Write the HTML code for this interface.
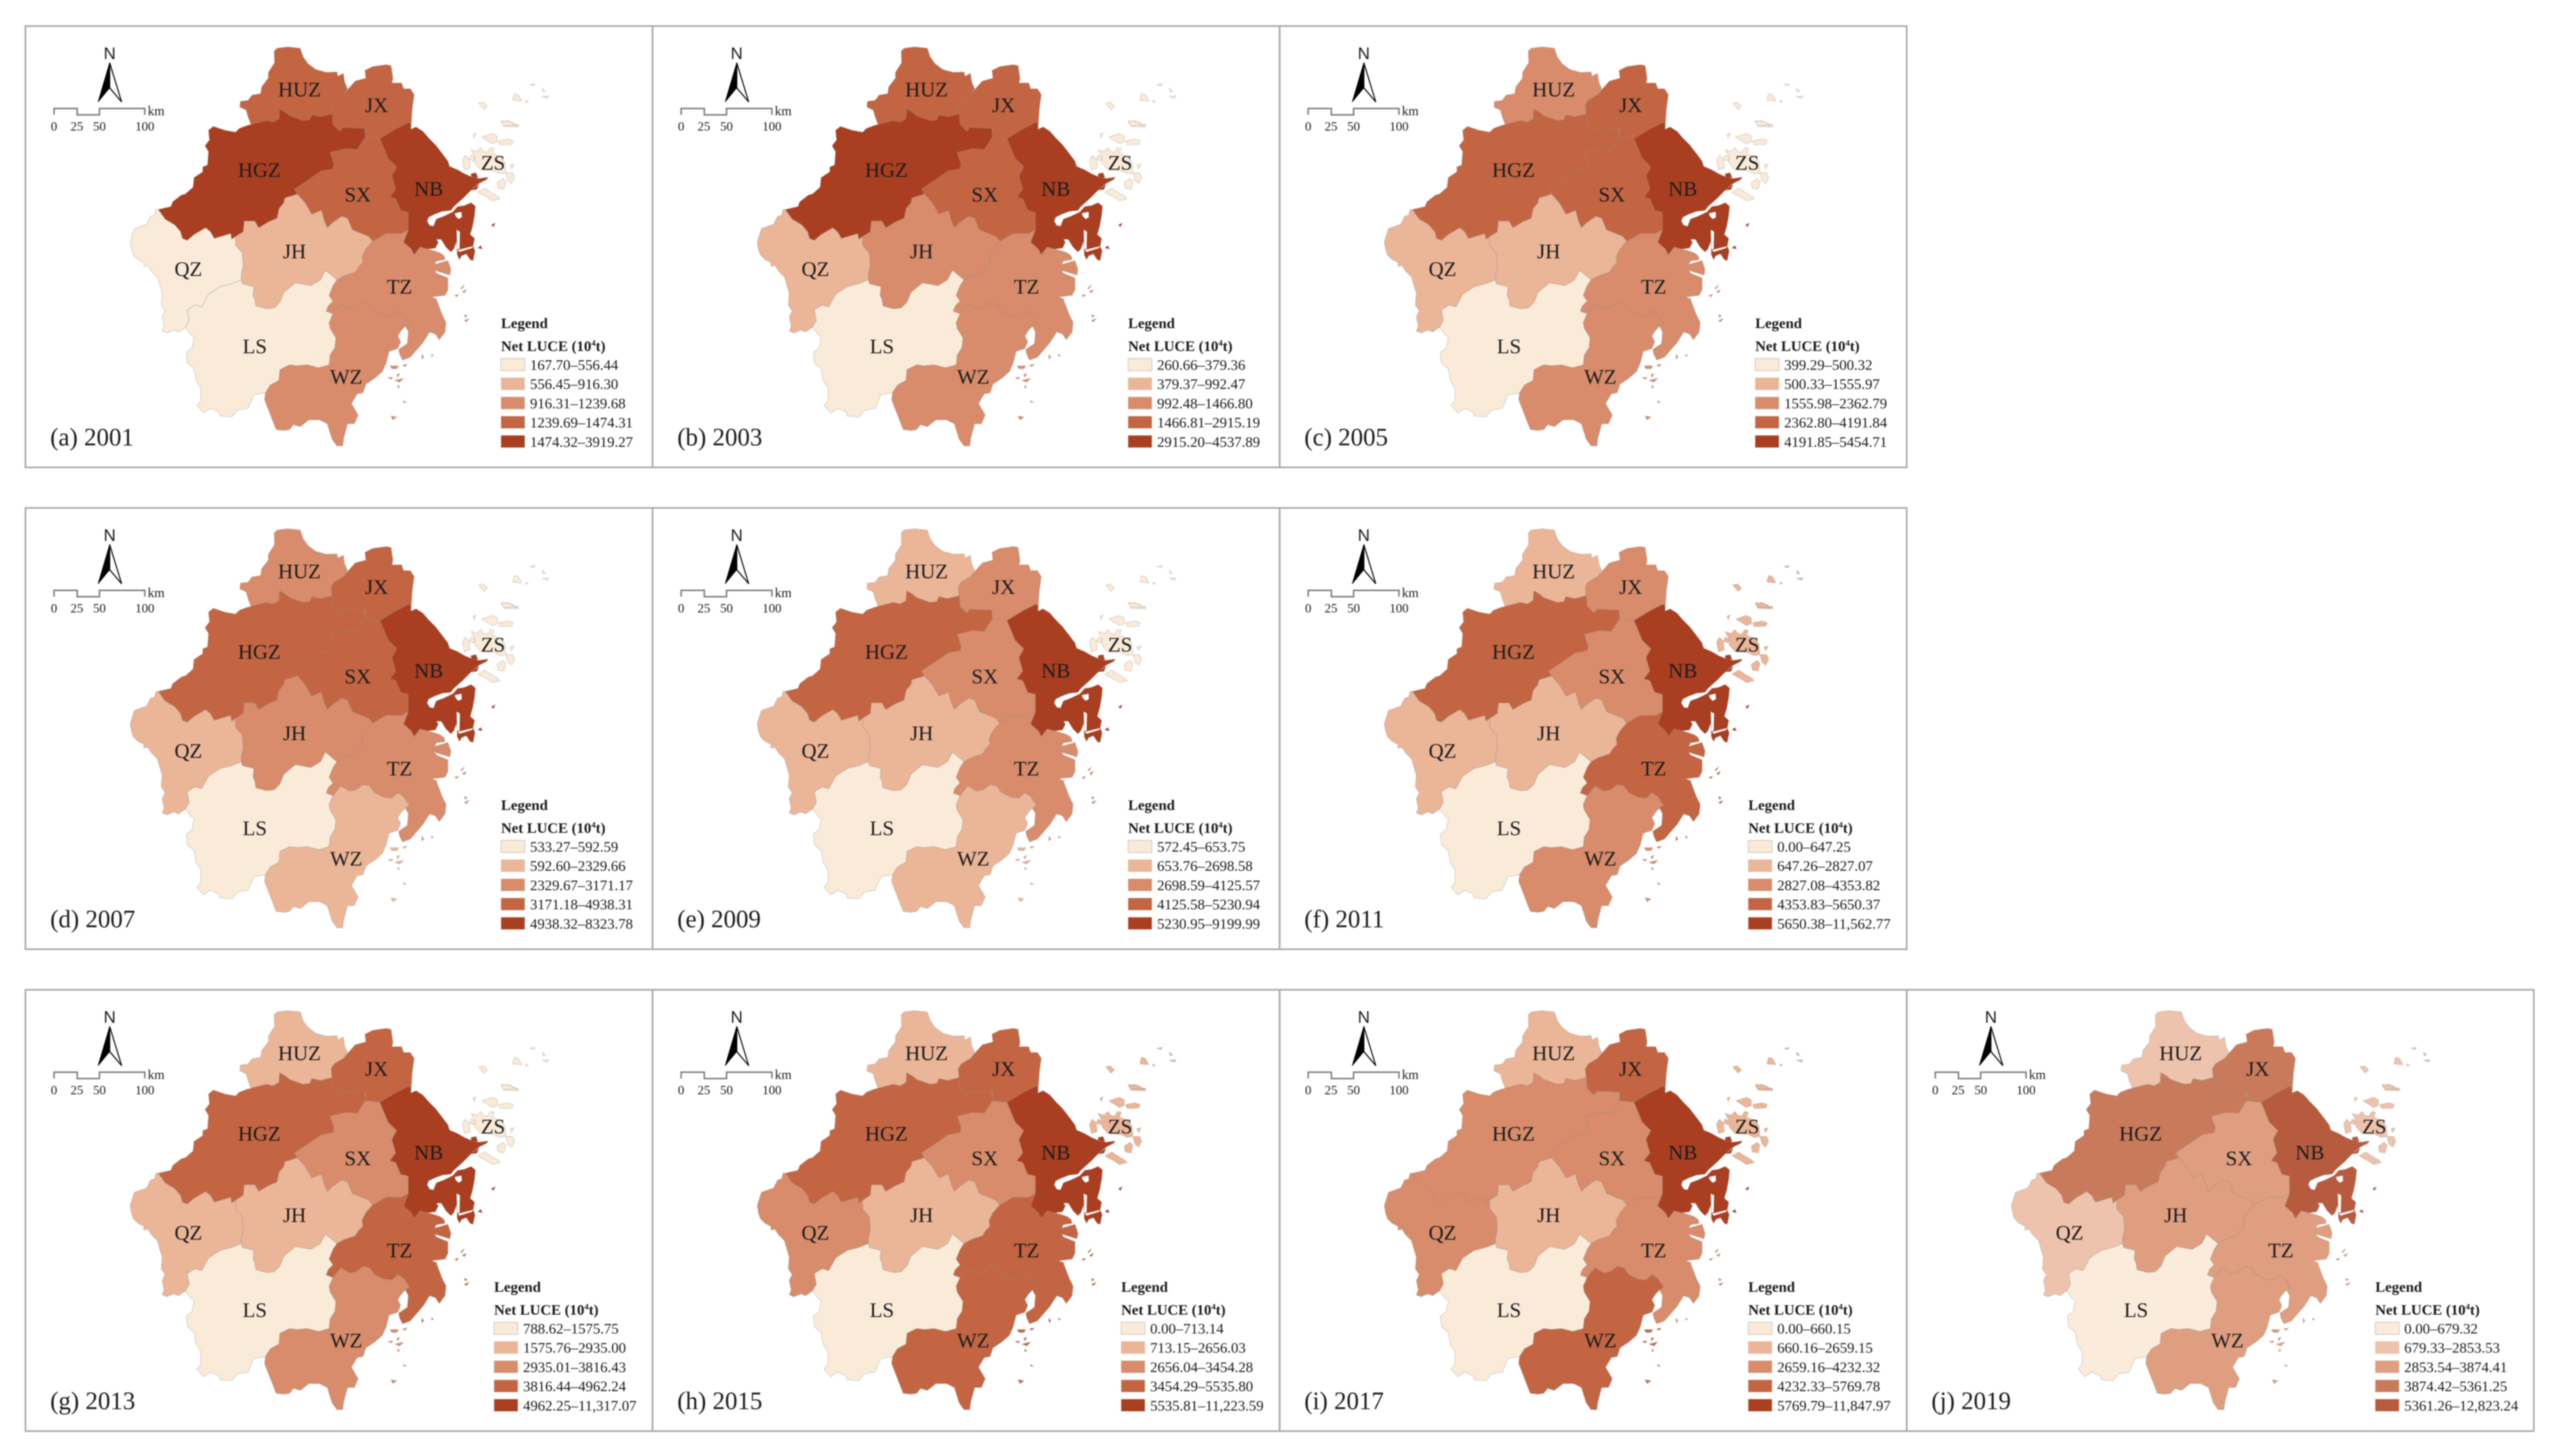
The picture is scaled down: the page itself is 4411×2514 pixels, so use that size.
<!DOCTYPE html>
<html lang="en">
<head>
<meta charset="utf-8">
<title>Net LUCE maps of Zhejiang, 2001–2019</title>
<style>
html,body{margin:0;padding:0;background:#fff;width:4411px;height:2514px;overflow:hidden}
svg{display:block;filter:blur(1px)}
text{font-family:"Liberation Serif",serif;fill:#1c1c1c}
</style>
</head>
<body>
<svg id="figure" xmlns="http://www.w3.org/2000/svg" width="4411" height="2514" viewBox="0 0 4411 2514">
<rect x="0" y="0" width="4411" height="2514" fill="#ffffff"/>
</svg>
<script>
// ---------- data ----------
const panelLetters = ["a","b","c","d","e","f","g","h","i","j"];
const panelYears = [2001,2003,2005,2007,2009,2011,2013,2015,2017,2019];
const panelRows = [0,0,0,1,1,1,2,2,2,2];
const panelCols = [0,1,2,0,1,2,0,1,2,3];
const regionNames = ["HUZ","JX","HGZ","SX","NB","ZS","QZ","JH","LS","TZ","WZ"];
// class (1-5) of each region, one row per panel, same order as regionNames
const classes2001 = [4,4,5,4,5,1,1,2,1,3,3];
const classes2003 = [4,4,5,4,5,1,2,3,1,3,3];
const classes2005 = [3,4,4,4,5,1,2,2,1,3,3];
const classes2007 = [3,4,4,4,5,1,2,3,1,3,2];
const classes2009 = [2,3,4,3,5,1,2,2,1,3,2];
const classes2011 = [2,3,4,3,5,2,2,2,1,4,3];
const classes2013 = [2,4,4,3,5,1,2,2,1,4,3];
const classes2015 = [2,4,4,3,5,2,3,2,1,4,4];
const classes2017 = [2,4,3,3,5,2,3,2,1,3,4];
const classes2019 = [2,4,4,3,5,2,2,3,1,3,3];
const panelClasses = [classes2001,classes2003,classes2005,classes2007,classes2009,classes2011,classes2013,classes2015,classes2017,classes2019];
const legend2001 = ["167.70–556.44","556.45–916.30","916.31–1239.68","1239.69–1474.31","1474.32–3919.27"];
const legend2003 = ["260.66–379.36","379.37–992.47","992.48–1466.80","1466.81–2915.19","2915.20–4537.89"];
const legend2005 = ["399.29–500.32","500.33–1555.97","1555.98–2362.79","2362.80–4191.84","4191.85–5454.71"];
const legend2007 = ["533.27–592.59","592.60–2329.66","2329.67–3171.17","3171.18–4938.31","4938.32–8323.78"];
const legend2009 = ["572.45–653.75","653.76–2698.58","2698.59–4125.57","4125.58–5230.94","5230.95–9199.99"];
const legend2011 = ["0.00–647.25","647.26–2827.07","2827.08–4353.82","4353.83–5650.37","5650.38–11,562.77"];
const legend2013 = ["788.62–1575.75","1575.76–2935.00","2935.01–3816.43","3816.44–4962.24","4962.25–11,317.07"];
const legend2015 = ["0.00–713.14","713.15–2656.03","2656.04–3454.28","3454.29–5535.80","5535.81–11,223.59"];
const legend2017 = ["0.00–660.15","660.16–2659.15","2659.16–4232.32","4232.33–5769.78","5769.79–11,847.97"];
const legend2019 = ["0.00–679.32","679.33–2853.53","2853.54–3874.41","3874.42–5361.25","5361.26–12,823.24"];
const panelLegends = [legend2001,legend2003,legend2005,legend2007,legend2009,legend2011,legend2013,legend2015,legend2017,legend2019];
const classColors = ["#FAEBD9","#EBB598","#D88C6B","#C36542","#A93E21"];
const classColorsLight = ["#FAEBDA","#EEC3AD","#DF9E80","#C97A5B","#B75B3F"];
const scaleTicks = ["0","25","50","100"];

// ---------- base-map geometry (region outlines, tracing frames) ----------
const frames = {a:[30,1110/1568,30,800/1568], b:[650,1/3,200,1/3], c:[500,1/3,430,1/3], d:[400,1/3,75,1/3], e:[260,1/3,200,1/3], f:[220,1/3,430,1/3]};
const regionOutlines = {
 HUZ:["d 600,235 585,200 578,155 550,170 545,148 490,150 435,135 395,105 370,70 355,25 290,18 235,25 220,40 222,100 190,150 190,180 155,225 150,260 105,268 85,295 45,300 42,330 75,345 85,380 100,420 180,400 215,408 245,390 248,340 275,355 300,375 370,400 405,395 415,370 460,380 520,365 515,320 530,295 580,265"],
 JX:["d 600,240 640,195 695,180 690,140 730,120 800,110 825,115 835,180 830,205 880,205 890,235 925,235 945,265 935,340 928,445 b 178,40 165,35 100,68 18,118 d 692,485 692,440 575,435 560,455 525,420 520,365 515,320 530,295 580,265"],
 HGZ:["e 40,485 105,470 115,445 160,410 180,405 220,370 225,320 270,290 270,265 295,255 300,185 282,155 305,125 300,75 325,55 385,75 440,85 460,65 500,50 d 100,420 180,400 215,408 245,390 248,340 275,355 300,375 370,400 405,395 415,370 460,380 520,365 525,420 560,455 575,435 690,440 692,485 650,550 590,545 510,565 530,625 525,650 465,660 385,715 340,745 325,755 e 760,405 740,412 695,425 690,450 665,480 655,530 610,550 560,580 540,545 485,545 480,600 440,625 420,640 415,610 330,635 310,600 285,580 225,615 190,645 165,635 155,600 125,565 75,535"],
 SX:["d 692,485 b 18,118 60,220 105,265 80,310 100,380 70,420 100,430 125,490 165,500 165,590 d 880,985 800,985 730,1025 710,1000 625,965 600,905 570,895 520,930 495,955 480,920 465,865 415,885 380,825 e 760,405 d 325,755 340,745 385,715 465,660 525,650 530,625 510,565 590,545 650,550"],
 NB:["b 18,118 100,68 165,35 178,40 178,70 205,58 240,80 270,115 305,150 340,195 370,235 378,262 420,280 455,300 490,315 530,325 578,318 570,330 530,350 490,385 450,425 400,470 385,490 340,495 300,510 270,525 262,545 275,568 295,572 310,535 350,520 395,498 420,470 455,465 490,450 512,468 508,515 498,570 485,615 508,635 500,675 510,700 500,750 485,745 465,715 440,725 430,745 418,720 418,700 415,650 400,690 385,705 360,680 335,640 310,640 320,655 305,685 265,690 225,680 195,720 180,690 140,655 165,590 165,500 125,490 100,430 70,420 100,380 80,310 105,265 60,220",
  "b 490,300 515,295 525,320 490,320","b 595,565 615,555 605,575","b 525,685 540,672 548,690","b 490,385 530,355 520,382"],
 ZS:["b 490,175 520,185 540,165 555,185 575,190 590,165 610,170 600,195 640,210 665,240 670,295 640,300 610,285 540,280 510,245 510,215",
  "b 445,230 460,205 480,225 485,270 455,280","b 545,110 600,92 625,105 625,135 600,145","b 632,130 680,120 708,130 700,148 640,150","b 645,30 680,25 715,45 735,45 735,58 660,55",
  "b 670,295 705,295 715,320 700,350 680,335","b 625,345 655,325 670,340 660,380 630,375","b 525,395 560,375 590,395 625,415 640,430 600,440 570,420 540,405","b 490,205 510,215 505,235 480,225","b 500,95 515,90 505,115","b 690,255 712,250 700,275",
  "a 1125,290 1136,287 1146,300 1138,312","a 1212,258 1222,262 1230,283 1208,280","a 1180,350 1203,353 1220,366 1185,366","a 1250,228 1262,224 1260,232","a 1280,240 1288,250 1282,253","a 1280,268 1296,266 1293,274","a 1240,280 1246,285 1240,288"],
 QZ:["e 40,485 75,535 125,565 155,600 165,635 190,645 225,615 285,580 310,600 330,635 415,610 420,640 440,625 440,670 475,710 480,780 470,820 470,850 f 540,180 480,195 420,235 385,300 350,290 310,315 320,370 300,405 265,430 240,420 205,435 180,425 190,400 180,350 195,320 175,290 180,230 165,180 155,145 125,115 105,85 85,90 85,70 55,55 30,30 20,0 a 275,760 285,715 315,700 e 0,520 20,515 28,485"],
 JH:["e 440,625 480,600 485,545 540,545 560,580 610,550 655,530 665,480 690,450 695,425 740,412 760,405 d 380,825 415,885 465,865 480,920 495,955 520,930 570,895 600,905 625,965 710,1000 730,1025 c 395,0 375,40 380,70 360,90 340,120 280,140 245,160 185,110 f 1000,160 950,190 870,175 810,225 790,275 760,305 720,310 665,295 660,260 650,240 655,195 595,180 590,160 e 470,820 480,780 475,710 440,670"],
 LS:["c 185,110 245,160 225,190 205,240 225,270 200,295 190,322 225,335 205,380 210,410 240,460 235,510 210,550 205,600 150,615 90,600 40,605 0,600 f 790,625 785,680 740,705 715,745 655,755 625,825 570,835 540,870 480,865 475,845 430,825 395,850 360,810 380,785 380,720 355,680 345,620 310,590 305,535 335,510 345,455 330,445 300,405 320,370 310,315 350,290 385,300 420,235 480,195 540,180 590,160 595,180 655,195 650,240 660,260 665,295 720,310 760,305 790,275 810,225 870,175 950,190 1000,160"],
 TZ:["d 730,1025 800,985 880,985 b 165,590 140,655 180,690 195,720 225,680 265,690 300,700 330,710 350,725 355,745 310,752 300,770 370,750 385,795 380,825 300,800 310,815 370,840 370,900 355,930 285,938 315,950 c 760,260 790,340 810,380 805,430 775,470 755,440 725,430 690,485 660,520 625,560 585,575 570,545 565,520 610,490 615,430 600,400 620,385 590,340 560,320 530,348 490,345 440,320 415,285 380,278 345,305 310,312 265,285 245,310 225,335 190,322 200,295 225,270 205,240 225,190 245,160 280,140 340,120 360,90 380,70 375,40 395,0",
  "c 885,205 905,185 895,205","c 895,220 915,210 905,228","c 855,240 875,235 865,248","c 905,340 920,345 910,355","c 905,370 930,360 915,378","c 735,545 745,550 735,557","c 685,545 695,560 685,570"],
 WZ:["c 245,310 265,285 310,312 345,305 380,278 415,285 440,320 490,345 530,348 560,320 590,340 620,385 600,400 580,420 560,450 575,480 560,515 515,530 500,590 480,635 440,670 395,700 380,745 350,750 320,800 355,860 335,905 300,905 280,980 275,1020 245,1020 220,985 195,905 155,885 100,885 55,920 20,910 0,935 f 810,940 770,935 745,870 710,780 715,745 740,705 785,680 790,625 c 0,600 40,605 90,600 150,615 205,600 210,550 235,510 240,460 210,410 205,380 225,335",
  "c 520,605 565,605 555,620 530,620","c 585,600 610,598 595,610","c 510,665 535,665 525,675","c 545,680 590,670 570,690","c 555,650 570,645 560,665","c 590,785 605,795 590,795","c 525,865 555,870 535,885","c 560,705 570,715 560,720"]
};
const waterOutlines = ["b 415,590 432,600 430,690 418,690","b 405,505 440,497 442,525 425,535 410,520","b 420,695 500,675 495,685 430,705"];
const labelAnchors = {HUZ:[688,268],JX:[876,320],HGZ:[590,540],SX:[830,623],NB:[1003,604],ZS:[1160,515],QZ:[417,875],JH:[676,815],LS:[579,1137],TZ:[932,935],WZ:[802,1240]};

// ---------- helpers ----------
const SVGNS = "http://www.w3.org/2000/svg";
const root = document.getElementById("figure");
function el(tag, parent, attrs, txt){
  const e = document.createElementNS(SVGNS, tag);
  for (const k in attrs) e.setAttribute(k, attrs[k]);
  if (txt !== undefined) e.textContent = txt;
  parent.appendChild(e);
  return e;
}
function framePoint(f, x, y){
  const t = frames[f];
  return [t[0] + x * t[1], t[2] + y * t[3]];
}
function ringToPath(ring){
  let f = "a", out = [];
  ring.split(/\s+/).forEach(tok => {
    if (frames[tok]) { f = tok; return; }
    const p = tok.split(",").map(Number);
    const q = framePoint(f, p[0], p[1]);
    out.push(q[0].toFixed(1) + " " + q[1].toFixed(1));
  });
  return "M" + out.join("L") + "Z";
}
function colX(c){ return 1082.6 * c; }
function rowY(r){ return 832 * r; }
function classColor(panelIndex, cls){
  const pal = panelIndex === 9 ? classColorsLight : classColors;
  return pal[cls - 1];
}

// ---------- panels ----------
panelYears.forEach((year, i) => {
  const dx = colX(panelCols[i]), dy = rowY(panelRows[i]);
  const letter = panelLetters[i];
  const panel = el("g", root, {transform:`translate(${dx} ${dy})`});
  
  

  const frame = el("rect", panel, {x:44,y:45,width:1082.6,height:762,fill:"none",stroke:"#a8a8a8","stroke-width":2.8});
  
  

  // regions
  const classesRow = panelClasses[i];
  regionNames.forEach((name, r) => {
    const d = regionOutlines[name].map(ringToPath).join("");
    const p = el("path", panel, {d:d,fill:classColor(i, classesRow[r]),stroke:"#8f8680","stroke-opacity":"0.38","stroke-width":1.1,"stroke-linejoin":"round"});
    
    
  });
  waterOutlines.forEach(w => {
    const p = el("path", panel, {d:ringToPath(w),fill:"#ffffff"});
    
    
  });

  // region labels
  regionNames.forEach(name => {
    const a = labelAnchors[name];
    const q = framePoint("a", a[0], a[1]);
    const t = el("text", panel, {x:q[0].toFixed(1),y:q[1].toFixed(1),"text-anchor":"middle","font-size":36}, name);
    
    
  });

  // north arrow
  const north = el("g", panel, {});
  
  
  const nText = el("text", north, {x:189.3,y:102,"text-anchor":"middle","font-size":29,style:'font-family:"Liberation Sans",sans-serif'}, "N");
  
  
  el("path", north, {d:"M189.3 108.3L210 176L189.3 151.7Z",fill:"#fff",stroke:"#111","stroke-width":2});
  el("path", north, {d:"M189.3 108.3L169.3 176L189.3 151.7Z",fill:"#000",stroke:"#000","stroke-width":1});

  // scale bar
  const scale = el("g", panel, {});
  
  
  el("path", scale, {d:"M93.3 198.3V187.3H133.3V198.3H171.7V187.3H250V198.3",fill:"none",stroke:"#7d7d7d","stroke-width":2.6});
  const tickXs = [93.3,132.7,171.7,250];
  scaleTicks.forEach((s, k) => {
    const t = el("text", scale, {x:tickXs[k],y:225.7,"text-anchor":"middle","font-size":22}, s);
    
    
  });
  const km = el("text", scale, {x:255,y:199,"font-size":22.7}, "km");
  
  

  // panel title
  const title = el("text", panel, {x:86.6,y:769,"font-size":43}, "(" + letter + ") " + year);
  
  

  // legend
  const lx = i >= 5 ? 853 : 865;
  const legend = el("g", panel, {});
  
  
  const lh = el("text", legend, {x:lx,y:566.5,"font-size":25.5,"font-weight":"bold"}, "Legend");
  
  
  const ls = el("text", legend, {x:lx,y:606,"font-size":25.5,"font-weight":"bold"});
  
  
  el("tspan", ls, {}, "Net LUCE (10");
  el("tspan", ls, {"font-size":15,dy:-9}, "4");
  el("tspan", ls, {dy:9}, "t)");
  panelLegends[i].forEach((range, k) => {
    const sy = 619 + 33.2 * k;
    const sw = el("rect", legend, {x:lx,y:sy,width:41,height:21,fill:classColor(i, k + 1),stroke:"#c9c2bb","stroke-opacity":k === 0 ? 1 : 0.3,"stroke-width":1.2});
    
    
    const tx = el("text", legend, {x:lx + 50,y:sy + 19.5,"font-size":25.4,fill:"#2a2a2a"}, range);
    
    
  });
});
</script>
</body>
</html>
